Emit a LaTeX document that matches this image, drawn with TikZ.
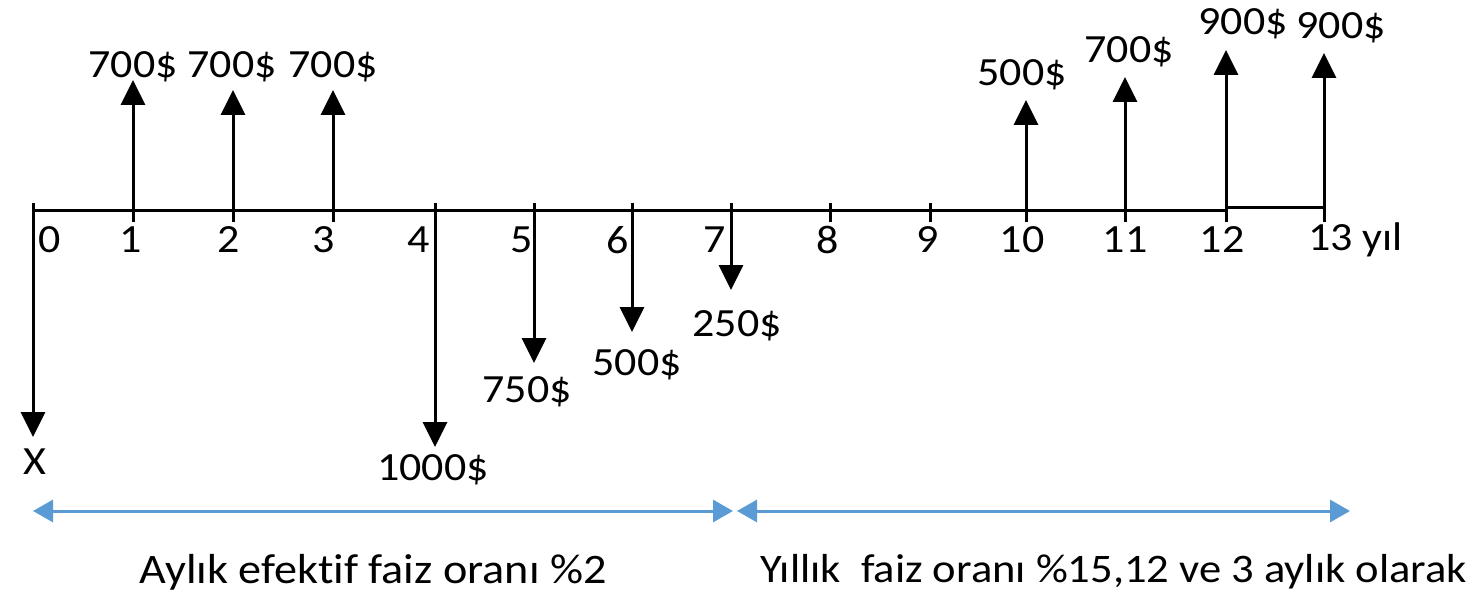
\documentclass[tikz,border=0pt]{standalone}
\usepackage{fontspec}
\setmainfont[FakeStretch=1.1,Ligatures=NoCommon]{Carlito}
\usetikzlibrary{arrows.meta}
\definecolor{lineblue}{HTML}{5B9BD5}
\begin{document}
\begin{tikzpicture}[x=1pt,y=-1pt,
  flow/.style={line width=3pt,-{Triangle[width=24pt,length=25pt]}},
  span/.style={lineblue,line width=3pt,{Triangle[width=22pt,length=20pt]}-{Triangle[width=22pt,length=20pt]}},
  lbl/.style={inner sep=0pt,font=\fontsize{40}{48}\selectfont},
  note/.style={inner sep=0pt,font=\fontsize{42}{50}\selectfont},
  axisline/.style={line width=3pt},
  tickline/.style={line width=3pt}]
\useasboundingbox (0,0) rectangle (1482,596);
% axis points
\coordinate (a0) at (33,210);
\coordinate (a1) at (133,210);
\coordinate (a2) at (233,210);
\coordinate (a3) at (333,210);
\coordinate (a4) at (435,210);
\coordinate (a5) at (534,210);
\coordinate (a6) at (632,210);
\coordinate (a7) at (731,210);
\coordinate (a8) at (830,210);
\coordinate (a9) at (930,210);
\coordinate (a10) at (1026,210);
\coordinate (a11) at (1125,210);
\coordinate (a12) at (1226,210);
\coordinate (a12u) at (1226,207);
\coordinate (a13) at (1324,207);
\draw[axisline] (a0) -- (a12);
\draw[axisline] (a12u) -- (a13);
% ticks
\foreach \x in {33,133,233,333,435,534,632,731,830,930,1026,1125,1226}
  \draw[tickline] (\x,203) -- (\x,222);
\draw[tickline] (1324,207) -- (1324,222);
% arrow heads
\coordinate (h0) at (33,437);
\coordinate (h1) at (133,80);
\coordinate (h2) at (233,90);
\coordinate (h3) at (333,90);
\coordinate (h4) at (435,447);
\coordinate (h5) at (534,363);
\coordinate (h6) at (632,332);
\coordinate (h7) at (731,290);
\coordinate (h10) at (1026,100);
\coordinate (h11) at (1125,77);
\coordinate (h12) at (1226,50);
\coordinate (h13) at (1324,53);
\draw[flow] (a0) -- (h0);
\draw[flow] (a1) -- (h1);
\draw[flow] (a2) -- (h2);
\draw[flow] (a3) -- (h3);
\draw[flow] (a4) -- (h4);
\draw[flow] (a5) -- (h5);
\draw[flow] (a6) -- (h6);
\draw[flow] (a7) -- (h7);
\draw[flow] (a10) -- (h10);
\draw[flow] (a11) -- (h11);
\draw[flow] (a12) -- (h12);
\draw[flow] (a13) -- (h13);
% amount labels
\node[lbl] (v1) at (133,67) {700\$};
\node[lbl] (v2) at (232,67) {700\$};
\node[lbl] (v3) at (333,67) {700\$};
\node[lbl] (v10) at (1022,75) {500\$};
\node[lbl] (v11) at (1129,52) {700\$};
\node[lbl] (v12) at (1243,24) {900\$};
\node[lbl] (v13) at (1341,28) {900\$};
\node[lbl] (v0) at (35,462) {X};
\node[lbl] (v4) at (433,470) {1000\$};
\node[lbl] (v5) at (527,392) {750\$};
\node[lbl] (v6) at (637,365) {500\$};
\node[lbl] (v7) at (737,326) {250\$};
% period labels
\node[lbl] (n0) at (50,240) {0};
\node[lbl] (n1) at (131,240) {1};
\node[lbl] (n2) at (229,240) {2};
\node[lbl] (n3) at (324,240) {3};
\node[lbl] (n4) at (419,240) {4};
\node[lbl] (n5) at (522,240) {5};
\node[lbl] (n6) at (618,240) {6};
\node[lbl] (n7) at (715,240) {7};
\node[lbl] (n8) at (828,240) {8};
\node[lbl] (n9) at (928,240) {9};
\node[lbl] (n10) at (1022,240) {10};
\node[lbl] (n11) at (1125,240) {11};
\node[lbl] (n12) at (1222,240) {12};
\node[lbl,anchor=west] (n13) at (1308,240) {13 yıl};
% spans
\coordinate (s0) at (33,511);
\coordinate (s1) at (733,511);
\coordinate (s2) at (737,511);
\coordinate (s3) at (1350,511);
\draw[span] (s0) -- (s1);
\draw[span] (s2) -- (s3);
\node[note] (t1) at (373,572) {Aylık efektif faiz oranı \%2};
\node[note,font=\fontsize{40.5}{48}\selectfont,anchor=west] (t2) at (760,572) {Yıllık\ \ faiz oranı \%15,12 ve 3 aylık olarak};
\end{tikzpicture}
\end{document}
